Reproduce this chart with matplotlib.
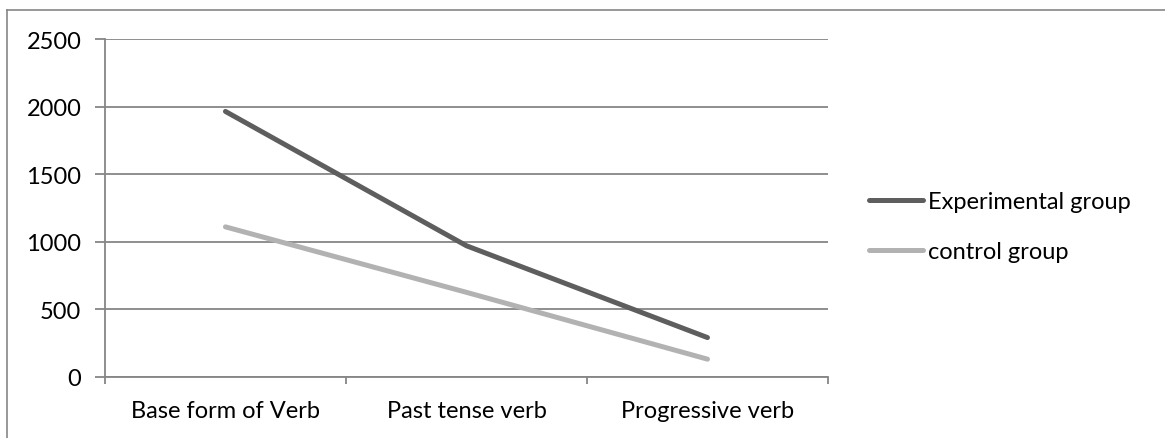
import numpy as np
import matplotlib.pyplot as plt
from matplotlib.lines import Line2D

# Valori dei gruppi per tipo di verbo
categories = ['Base form of Verb', 'Past tense verb', 'Progressive verb']
experimental = [1965, 970, 290]
control = [1110, 625, 130]
y_ticks = [0, 500, 1000, 1500, 2000, 2500]

plt.rcParams['font.family'] = ['Lato', 'DejaVu Sans']
fs = 17

fig = plt.figure(figsize=(11.65, 4.39), dpi=100)
ax = fig.add_axes([0.0901, 0.1396, 0.6206, 0.7688])

grid_color = '#868686'
x = np.arange(len(categories))

ax.plot(x, experimental, color='#5e5e5e', lw=3.6, solid_capstyle='round',
        solid_joinstyle='round', label='Experimental group', zorder=3)
ax.plot(x, control, color='#b2b2b2', lw=3.6, solid_capstyle='round',
        solid_joinstyle='round', label='control group', zorder=3)

ax.set_xlim(-0.5, len(categories) - 0.5)
ax.set_ylim(0, 2500)
ax.set_yticks(y_ticks)
ax.yaxis.grid(True, color=grid_color, lw=1.3)
ax.set_axisbelow(True)

# tacche ai bordi delle categorie, etichette al centro
ax.set_xticks(np.arange(-0.5, len(categories), 1.0))
ax.set_xticklabels([])
ax.set_xticks(x, minor=True)
ax.set_xticklabels(categories, minor=True)
ax.tick_params(axis='x', which='major', direction='out', length=5, width=1.3, color=grid_color)
ax.tick_params(axis='x', which='minor', length=0, pad=17, labelsize=fs)
ax.tick_params(axis='y', direction='out', length=7, width=1.3, color=grid_color, pad=10, labelsize=fs)

for side in ['top', 'right']:
    ax.spines[side].set_visible(False)
for side in ['left', 'bottom']:
    ax.spines[side].set_color(grid_color)
    ax.spines[side].set_linewidth(1.3)

ax.legend(loc='center left', bbox_to_anchor=(1.027, 0.445), frameon=False,
          fontsize=fs, handlelength=2.3, handletextpad=0.2, labelspacing=1.25)

# cornice esterna del grafico
fig.add_artist(Line2D([7 / 1165, 1], [1 - 11 / 439, 1 - 11 / 439], color=grid_color, lw=1.2))
fig.add_artist(Line2D([7 / 1165, 7 / 1165], [0, 1 - 11 / 439], color=grid_color, lw=1.2))

plt.savefig('out.png', dpi=100)
